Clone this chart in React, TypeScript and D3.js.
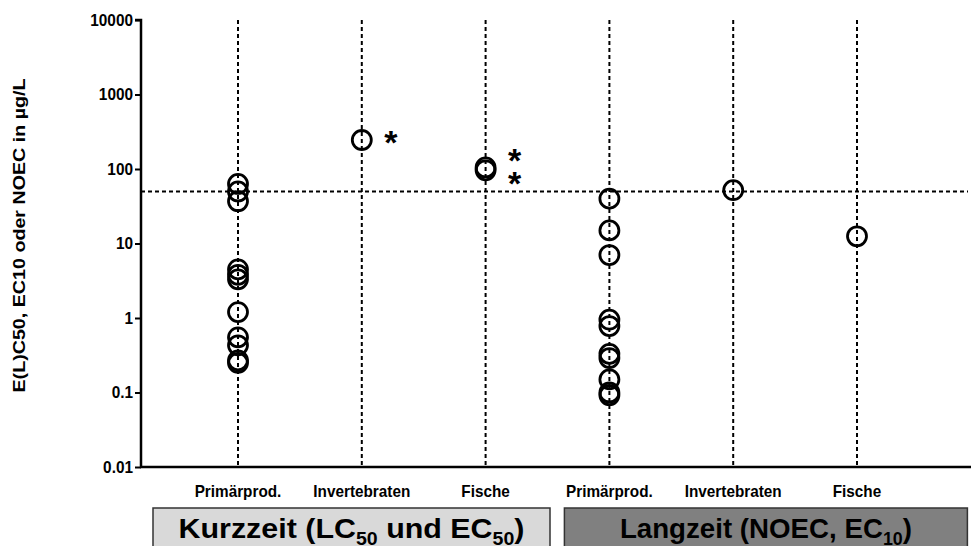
import React, { useEffect, useRef } from 'react';
import * as d3 from 'd3';

// column ids + labels (labels repeat for both groups)
const columns = ['kPrim', 'kInv', 'kFis', 'lPrim', 'lInv', 'lFis'];
const columnLabels = ['Primärprod.', 'Invertebraten', 'Fische', 'Primärprod.', 'Invertebraten', 'Fische'];

// values in µg/L
const kurzPrimaer = [63, 50, 37, 4.5, 3.8, 3.3, 1.2, 0.55, 0.43, 0.27, 0.25];
const kurzInvert = [245];
const kurzFische = [105, 96];
const langPrimaer = [40, 15, 7, 0.95, 0.78, 0.33, 0.29, 0.15, 0.1, 0.092];
const langInvert = [52];
const langFische = [12.5];

const seriesValues = [kurzPrimaer, kurzInvert, kurzFische, langPrimaer, langInvert, langFische];

// asterisk marks: column, value at which they sit, count
const starCols = ['kInv', 'kFis'];
const starValues = [245, 100];
const starCounts = [1, 2];

const threshold = 50;
const yTicks = [0.01, 0.1, 1, 10, 100, 1000, 10000];

const groups = ['Kurzzeit', 'Langzeit'];

const FONT = 'Liberation Sans, Arial, sans-serif';

// squeeze a text horizontally to fake a narrow font
const condense = (sel: any, factor: number) => {
  sel.each(function (this: SVGTextElement) {
    const w = this.getComputedTextLength();
    d3.select(this)
      .attr('textLength', w * factor)
      .attr('lengthAdjust', 'spacingAndGlyphs');
  });
};

const App = () => {
  const svgRef = useRef<SVGSVGElement>(null);

  useEffect(() => {
    const svg = d3.select(svgRef.current);
    svg.selectAll('*').remove();
    const width = 971;
    const height = 546;
    const margin = { top: 20, right: 0, bottom: 79, left: 141 };
    const innerW = width - margin.left - margin.right;
    const innerH = height - margin.top - margin.bottom;

    const x = d3.scalePoint<string>()
      .domain(columns)
      .range([97, 716]);

    const y = d3.scaleLog()
      .domain([0.01, 10000])
      .range([innerH, 0]);

    const g = svg.append('g')
      .attr('transform', `translate(${margin.left},${margin.top})`);

    // vertical dashed lines per column
    g.selectAll('.vline')
      .data(columns)
      .enter().append('line')
      .attr('x1', d => x(d)!)
      .attr('x2', d => x(d)!)
      .attr('y1', 0)
      .attr('y2', innerH)
      .attr('stroke', 'black')
      .attr('stroke-width', 2)
      .attr('stroke-dasharray', '4,3');

    // threshold line
    g.append('line')
      .attr('x1', 0)
      .attr('x2', innerW - 3)
      .attr('y1', y(threshold))
      .attr('y2', y(threshold))
      .attr('stroke', 'black')
      .attr('stroke-width', 2)
      .attr('stroke-dasharray', '4,3');

    // circles
    columns.forEach((c, i) => {
      g.selectAll(`.dot-${c}`)
        .data(seriesValues[i])
        .enter().append('circle')
        .attr('cx', x(c)!)
        .attr('cy', d => y(d))
        .attr('r', 9.5)
        .attr('fill', 'none')
        .attr('stroke', 'black')
        .attr('stroke-width', 2.8);
    });

    // asterisks
    starCols.forEach((c, i) => {
      const n = starCounts[i];
      d3.range(n).forEach(k => {
        const off = (k - (n - 1) / 2) * 23;
        g.append('text')
          .attr('x', x(c)! + 29)
          .attr('y', y(starValues[i]) + off + 14)
          .attr('text-anchor', 'middle')
          .attr('font-family', FONT)
          .attr('font-weight', 'bold')
          .attr('font-size', 34)
          .text('*');
      });
    });

    // y axis
    const yAxis = g.append('g')
      .call(d3.axisLeft(y).tickValues(yTicks).tickSize(6).tickFormat(d => String(d)));
    yAxis.select('.domain').attr('stroke-width', 2.5).attr('d', `M-6,0H0V${innerH}`);
    yAxis.selectAll('line').attr('stroke-width', 2);
    yAxis.selectAll('text')
      .attr('font-family', FONT)
      .attr('font-weight', 'bold')
      .attr('font-size', 16)
      .attr('x', -8)
      .attr('fill', 'black');
    condense(yAxis.selectAll('text'), 0.96);

    // x axis line
    g.append('line')
      .attr('x1', -1)
      .attr('x2', innerW)
      .attr('y1', innerH)
      .attr('y2', innerH)
      .attr('stroke', 'black')
      .attr('stroke-width', 2.5);

    // column labels
    const xl = g.selectAll('.xlab')
      .data(columns)
      .enter().append('text')
      .attr('x', d => x(d)!)
      .attr('y', innerH + 30)
      .attr('text-anchor', 'middle')
      .attr('font-family', FONT)
      .attr('font-weight', 'bold')
      .attr('font-size', 17)
      .text((d, i) => columnLabels[i]);
    condense(xl, 0.9);

    // y title
    svg.append('text')
      .attr('transform', `translate(25,${margin.top + innerH / 2 - 8}) rotate(-90)`)
      .attr('text-anchor', 'middle')
      .attr('font-family', FONT)
      .attr('font-weight', 'bold')
      .attr('font-size', 17)
      .attr('textLength', 314)
      .attr('lengthAdjust', 'spacingAndGlyphs')
      .text('E(L)C50, EC10 oder NOEC in µg/L');

    // group boxes
    const boxFill = ['#d9d9d9', '#808080'];
    const boxX = [x('kPrim')! - 85, x('lPrim')! - 45];
    const boxW = [397, 403];
    groups.forEach((grp, i) => {
      g.append('rect')
        .attr('x', boxX[i])
        .attr('y', innerH + 41)
        .attr('width', boxW[i])
        .attr('height', 50)
        .attr('fill', boxFill[i])
        .attr('stroke', '#333')
        .attr('stroke-width', 1.5);
    });

    const t1 = g.append('text')
      .attr('x', boxX[0] + boxW[0] / 2)
      .attr('y', innerH + 71)
      .attr('text-anchor', 'middle')
      .attr('font-family', FONT)
      .attr('font-size', 28)
      .attr('font-weight', 'bold')
      .attr('fill', 'black')
      .attr('textLength', 346)
      .attr('lengthAdjust', 'spacingAndGlyphs');
    t1.append('tspan').text('Kurzzeit (LC');
    t1.append('tspan').attr('font-size', 18).attr('dy', 7).text('50');
    t1.append('tspan').attr('dy', -7).text(' und EC');
    t1.append('tspan').attr('font-size', 18).attr('dy', 7).text('50');
    t1.append('tspan').attr('dy', -7).text(')');

    const t2 = g.append('text')
      .attr('x', boxX[1] + boxW[1] / 2)
      .attr('y', innerH + 71)
      .attr('text-anchor', 'middle')
      .attr('font-family', FONT)
      .attr('font-size', 28)
      .attr('font-weight', 'bold')
      .attr('fill', 'black')
      .attr('textLength', 292)
      .attr('lengthAdjust', 'spacingAndGlyphs');
    t2.append('tspan').text('Langzeit (NOEC, EC');
    t2.append('tspan').attr('font-size', 18).attr('dy', 7).text('10');
    t2.append('tspan').attr('dy', -7).text(')');
  }, []);

  return (
    <svg ref={svgRef} width={971} height={546}
      style={{ position: 'absolute', left: 0, top: 0, background: 'white' }} />
  );
};

export default App;
